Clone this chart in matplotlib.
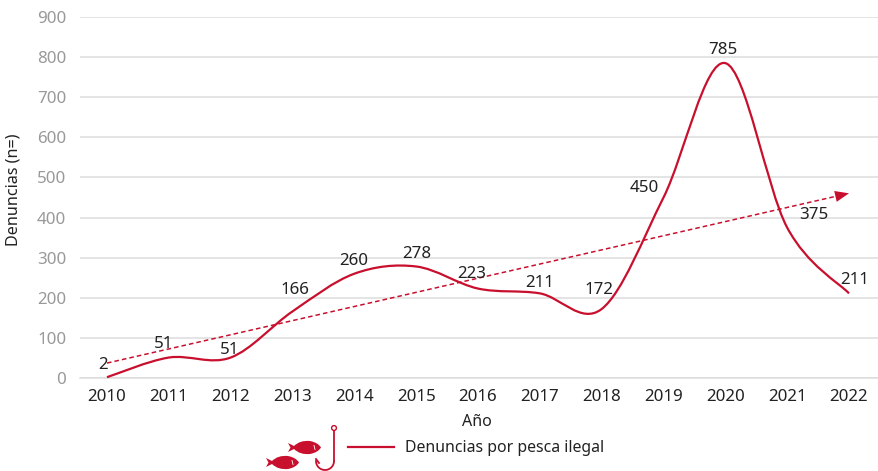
#!/usr/bin/env python3
# -*- coding: utf-8 -*-
import numpy as np
import matplotlib
matplotlib.use("Agg")
import matplotlib.pyplot as plt
from matplotlib.path import Path
from matplotlib.patches import PathPatch, Circle

# Chart values
years = [2010, 2011, 2012, 2013, 2014, 2015, 2016, 2017, 2018, 2019, 2020, 2021, 2022]
denuncias = [2, 51, 51, 166, 260, 278, 223, 211, 172, 450, 785, 375, 211]
y_ticks = [0, 100, 200, 300, 400, 500, 600, 700, 800, 900]

# Where each value label sits relative to its point (pixels)
label_dx = [-4, -5, -1, 2, -1, 1, -6, 0, -3, -19, -2, 27, 6]
label_dy = [12, 14, 8, 21, 13, 12, 15, 10, 19, 10, 13, 13, 13]

RED = "#c8102e"
GRID = "#dcdcdc"
TEXT = "#222222"

plt.rcParams["font.family"] = ["Noto Sans", "DejaVu Sans"]

fig = plt.figure(figsize=(8.79, 4.71), dpi=100)
ax = fig.add_axes([80 / 879, 1 - 378 / 471, 799 / 879, 361 / 471])


def smooth_path(xs, ys):
    # same kind of smoothing as a spreadsheet chart line (bezier through each point)
    px = [xs[0]] + list(xs) + [xs[-1]]
    py = [ys[0]] + list(ys) + [ys[-1]]
    verts = [(xs[0], ys[0])]
    codes = [Path.MOVETO]
    for i in range(1, len(px) - 2):
        c1 = (px[i] + (px[i + 1] - px[i - 1]) / 6, py[i] + (py[i + 1] - py[i - 1]) / 6)
        c2 = (px[i + 1] - (px[i + 2] - px[i]) / 6, py[i + 1] - (py[i + 2] - py[i]) / 6)
        verts += [c1, c2, (px[i + 1], py[i + 1])]
        codes += [Path.CURVE4, Path.CURVE4, Path.CURVE4]
    return Path(verts, codes)


ax.set_xlim(2010 - 27 / 61.83, 2022 + 30 / 61.83)
ax.set_ylim(0, 900)
ax.set_yticks(y_ticks)
ax.set_xticks(years)
ax.grid(axis="y", color=GRID, linewidth=1.1)
ax.set_axisbelow(True)
for s in ["top", "right", "left"]:
    ax.spines[s].set_visible(False)
ax.spines["bottom"].set_color(GRID)
ax.spines["bottom"].set_linewidth(1.1)
ax.tick_params(axis="both", length=0)
ax.tick_params(axis="y", labelsize=12.2, labelcolor="#999999", pad=10)
ax.tick_params(axis="x", labelsize=12.2, labelcolor=TEXT, pad=8)

ax.add_patch(PathPatch(smooth_path(years, denuncias), fill=False, edgecolor=RED,
                       linewidth=1.6, clip_on=False, zorder=3))

# Linear trend with an arrow at its end
slope, intercept = np.polyfit(years, denuncias, 1)
trend = [slope * y + intercept for y in (years[0], years[-1])]
ax.plot([years[0], years[-1] - 0.1], [trend[0], trend[1] - 0.1 * slope], color=RED,
        linewidth=1.1, linestyle=(0, (3, 2)), zorder=3)
ax.annotate("", xy=(years[-1], trend[1]), xytext=(years[-1] - 0.25, trend[1] - 0.25 * slope),
            arrowprops=dict(arrowstyle="-|>,head_length=1.0,head_width=0.4",
                            color=RED, lw=0, shrinkA=0, shrinkB=0), zorder=4)

for x, v, dx, dy in zip(years, denuncias, label_dx, label_dy):
    ax.annotate(str(v), (x, v), xytext=(dx, dy), textcoords="offset pixels",
                ha="center", va="center", fontsize=12.2, color=TEXT, zorder=5)

fig.text(14 / 879, 1 - 190 / 471, "Denuncias (n=)", rotation=90, ha="center", va="center",
         fontsize=11.6, color=TEXT)
fig.text(477 / 879, 1 - 422 / 471, "Año", ha="center", va="center",
         fontsize=11.5, color=TEXT)

# Legend and icon, placed in figure pixels
over = fig.add_axes([0, 0, 1, 1], facecolor="none")
over.set_xlim(0, 879)
over.set_ylim(471, 0)
over.axis("off")
over.plot([348, 394], [447, 447], color=RED, linewidth=1.6)
over.text(405, 448, "Denuncias por pesca ilegal", ha="left", va="center",
          fontsize=11.4, color=TEXT)


def fish(x0, y0):
    # body and tail as one outline, nose on the right
    verts = [(x0, y0 + 2), (x0 + 6, y0 + 5),
             (x0 + 12, y0 - 1), (x0 + 22, y0),
             (x0 + 30, y0 + 1.5), (x0 + 33, y0 + 6.5),
             (x0 + 30, y0 + 11.5), (x0 + 22, y0 + 13),
             (x0 + 12, y0 + 14), (x0 + 6, y0 + 8),
             (x0, y0 + 11), (x0 + 2.5, y0 + 6.5), (x0, y0 + 2)]
    codes = [Path.MOVETO, Path.LINETO,
             Path.CURVE3, Path.CURVE3, Path.CURVE3, Path.CURVE3,
             Path.CURVE3, Path.CURVE3, Path.CURVE3, Path.CURVE3,
             Path.LINETO, Path.LINETO, Path.CLOSEPOLY]
    over.add_patch(PathPatch(Path(verts, codes), facecolor=RED, edgecolor="none"))
    over.plot([x0 + 26, x0 + 27], [y0 + 4.5, y0 + 8.5], color="white", linewidth=0.6)


fish(288, 441)
fish(266, 456)

# hook
t = np.linspace(0, np.pi, 30)
over.plot([334, 334], [431, 461], color=RED, linewidth=1.3)
over.plot(325 + 9 * np.cos(t), 461 + 9 * np.sin(t), color=RED, linewidth=1.3)
over.plot([316, 319], [459, 463], color=RED, linewidth=1.3)
over.add_patch(Circle((334, 428), 2.4, facecolor="white", edgecolor=RED, linewidth=1))

fig.savefig("out.png", dpi=100)
